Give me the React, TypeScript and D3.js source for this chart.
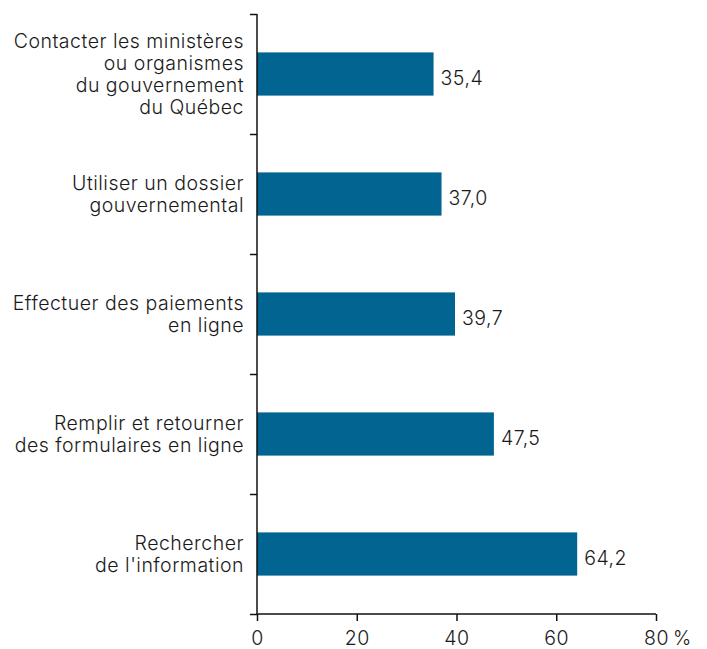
import React, { useEffect, useRef } from "react";
import * as d3 from "d3";

const categories = [
  ["Contacter les ministères", "ou organismes", "du gouvernement", "du Québec"],
  ["Utiliser un dossier", "gouvernemental"],
  ["Effectuer des paiements", "en ligne"],
  ["Remplir et retourner", "des formulaires en ligne"],
  ["Rechercher", "de l'information"],
];
const values = [35.4, 37.0, 39.7, 47.5, 64.2];
const xTicks = [0, 20, 40, 60, 80];

export default function App() {
  const svgRef = useRef<SVGSVGElement>(null);
  const width = 707;
  const height = 649;
  const margin = { top: 14, right: 51, bottom: 35, left: 257 };
  const font = "Inter, 'DejaVu Sans', sans-serif";
  const fs = 19.5;
  const ls = 0.5;

  useEffect(() => {
    const svg = d3.select(svgRef.current);
    svg.selectAll("*").remove();
    const g = svg.append("g").attr("transform", `translate(${margin.left},${margin.top})`);
    const innerW = width - margin.left - margin.right;
    const innerH = height - margin.top - margin.bottom;

    const ids = categories.map((_, i) => String(i));
    const yScale = d3.scaleBand().domain(ids).range([0, innerH]).padding(0);
    const xScale = d3.scaleLinear().domain([0, 80]).range([0, innerW]);
    const barH = yScale.bandwidth() * 0.36;
    const fmt = (v: number) => d3.format(".1f")(v).replace(".", ",");

    // bars
    g.selectAll(".bar")
      .data(values)
      .enter()
      .append("rect")
      .attr("x", 0)
      .attr("y", (d, i) => yScale(ids[i])! + yScale.bandwidth() / 2 - barH / 2)
      .attr("width", (d) => xScale(d))
      .attr("height", barH)
      .attr("fill", "#026591");

    // value labels
    g.selectAll(".val")
      .data(values)
      .enter()
      .append("text")
      .attr("x", (d) => xScale(d) + 7)
      .attr("y", (d, i) => yScale(ids[i])! + yScale.bandwidth() / 2 + 11)
      .attr("font-family", font)
      .attr("font-size", fs)
      .attr("font-weight", 300)
      .attr("letter-spacing", ls)
      .attr("fill", "#1a1a1a")
      .text((d) => fmt(d));

    // category labels
    const lineH = 22.3;
    categories.forEach((lines, i) => {
      const cy = yScale(ids[i])! + yScale.bandwidth() / 2;
      const t = g
        .append("text")
        .attr("text-anchor", "end")
        .attr("font-family", font)
        .attr("font-size", fs)
        .attr("font-weight", 300)
        .attr("letter-spacing", ls)
        .attr("fill", "#1a1a1a");
      lines.forEach((ln, j) => {
        t.append("tspan")
          .attr("x", -13)
          .attr("y", cy + (j - (lines.length - 1) / 2) * lineH + 7)
          .text(ln);
      });
    });

    // y axis
    const yAxis = g
      .append("g")
      .call(d3.axisLeft(d3.scaleLinear().domain([0, 5]).range([0, innerH])).ticks(5).tickSize(7).tickFormat(() => ""));
    yAxis.select(".domain").attr("d", `M0,0V${innerH}`).attr("stroke", "#111").attr("stroke-width", 1.5);
    yAxis.selectAll(".tick line").attr("stroke", "#111").attr("stroke-width", 1.5);

    // x axis
    const xAxis = g
      .append("g")
      .attr("transform", `translate(0,${innerH})`)
      .call(d3.axisBottom(xScale).tickValues(xTicks).tickSize(7).tickPadding(10).tickFormat((d) => String(d)));
    xAxis.select(".domain").attr("d", `M0,0H${innerW}`).attr("stroke", "#111").attr("stroke-width", 1.5);
    xAxis.selectAll(".tick line").attr("stroke", "#111").attr("stroke-width", 1.5);
    xAxis.selectAll("text").attr("font-family", font).attr("font-size", fs).attr("font-weight", 300).attr("letter-spacing", ls).attr("fill", "#1a1a1a");
    g.append("text")
      .attr("x", xScale(80) + 17)
      .attr("y", innerH + 31)
      .attr("font-family", font)
      .attr("font-size", fs)
      .attr("font-weight", 300)
      .attr("fill", "#1a1a1a")
      .text("%");
  }, []);

  return (
    <svg
      ref={svgRef}
      width={width}
      height={height}
      style={{ position: "absolute", left: 0, top: 0, background: "#fff" }}
    ></svg>
  );
}
